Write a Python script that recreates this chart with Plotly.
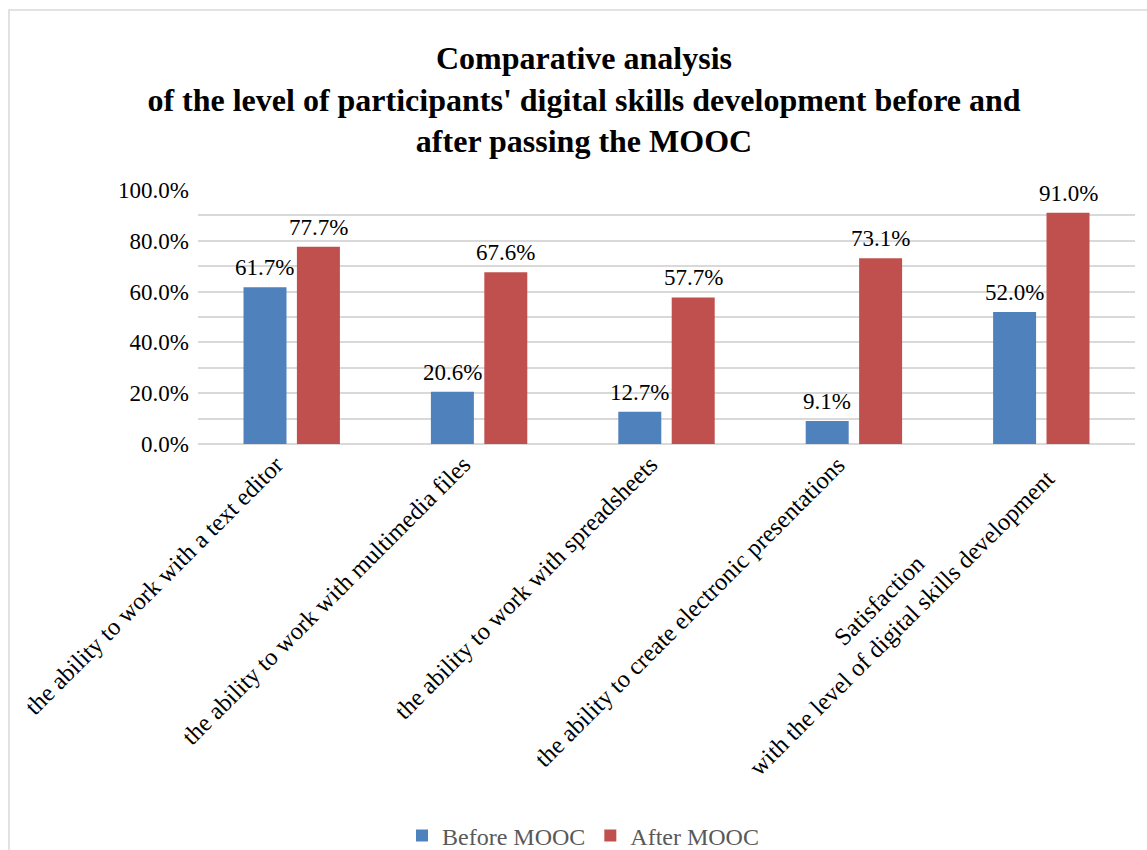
import plotly.graph_objects as go

categories = [
    "the ability to work with a text editor",
    "the ability to work with multimedia files",
    "the ability to work with spreadsheets",
    "the ability to create electronic presentations",
    "Satisfaction<br>with the level of digital skills development",
]
series_names = ["Before MOOC", "After MOOC"]
before_vals = [61.7, 20.6, 12.7, 9.1, 52.0]
after_vals = [77.7, 67.6, 57.7, 73.1, 91.0]
y_ticks = [0, 20, 40, 60, 80, 100]

title_text = ("Comparative analysis<br>of the level of participants' digital skills development before and"
              "<br>after passing the MOOC")

BLUE = "#4F81BD"
RED = "#C0504D"
GRID = "#D9D9D9"
FONT = "Liberation Serif"

W, H = 1147, 850
ML, MR, MT, MB = 198, 12, 190, 406
plot_w = W - ML - MR
cat_w = plot_w / len(categories)
BARGAP = 0.43
GROUPGAP = 0.195
slot = cat_w * (1 - BARGAP) / 2

fig = go.Figure()
fig.add_trace(go.Bar(x=categories, y=[v / 100 for v in before_vals], name=series_names[0],
                     marker=dict(color=BLUE, line=dict(width=0))))
fig.add_trace(go.Bar(x=categories, y=[v / 100 for v in after_vals], name=series_names[1],
                     marker=dict(color=RED, line=dict(width=0))))

annotations = []
# data labels
for vals, sign in ((before_vals, -1), (after_vals, 1)):
    for c, v in zip(categories, vals):
        annotations.append(dict(
            x=c, y=v / 100, xref="x", yref="y", text=f"{v:.1f}%", showarrow=False,
            xanchor="center", yanchor="bottom", xshift=sign * slot / 2, yshift=5,
            font=dict(family=FONT, size=23, color="#000000")))
# category labels (rotated, centered multi-line)
LABEL_SIZE = 24.5
for c in categories:
    extra = c.count("<br>")
    annotations.append(dict(
        x=c, y=0, xref="x", yref="y", text=c, showarrow=False, textangle=-45,
        align="center", xanchor="right", yanchor="top",
        xshift=-1 + 22 * extra, yshift=-4 + 8 * extra,
        font=dict(family=FONT, size=LABEL_SIZE, color="#000000")))

# chart border (light gray frame)
px2x = lambda px: (px - ML) / plot_w
py2y = lambda py: (H - MB - py) / (H - MT - MB)
shapes = [dict(type="rect", xref="paper", yref="paper",
               x0=px2x(9), x1=px2x(1160), y0=py2y(10), y1=py2y(870),
               line=dict(color=GRID, width=1.5), layer="below")]

fig.update_layout(
    width=W, height=H,
    margin=dict(l=ML, r=MR, t=MT, b=MB),
    paper_bgcolor="white", plot_bgcolor="white",
    barmode="group", bargap=BARGAP, bargroupgap=GROUPGAP,
    title=dict(text=title_text, x=584 / W, xanchor="center", xref="container",
               y=1 - 69 / H, yanchor="top", yref="container",
               font=dict(family=FONT, size=32, color="#000000", weight="bold")),
    legend=dict(orientation="h", x=px2x(583), xanchor="center", y=(H - 836) / H,
                yanchor="middle", yref="container",
                font=dict(family=FONT, size=24, color="#595959"),
                itemclick=False),
    annotations=annotations,
    shapes=shapes,
    showlegend=True,
)
fig.update_xaxes(type="category", categoryorder="array", categoryarray=categories,
                 range=[-0.5, len(categories) - 0.5], autorange=False,
                 showticklabels=False, showgrid=False, zeroline=False, showline=False, ticks="")
fig.update_yaxes(range=[0, 1], autorange=False, tickvals=[t / 100 for t in y_ticks],
                 ticktext=[f"{t:.1f}%" for t in y_ticks],
                 showgrid=True, gridcolor=GRID, gridwidth=1.5,
                 minor=dict(dtick=0.1, showgrid=True, gridcolor=GRID, gridwidth=1.5, tick0=0),
                 zeroline=True, zerolinecolor=GRID, zerolinewidth=1.5,
                 showline=False, ticks="", ticklabelstandoff=8,
                 tickfont=dict(family=FONT, size=23, color="#000000"))

fig.write_html("out.html")
